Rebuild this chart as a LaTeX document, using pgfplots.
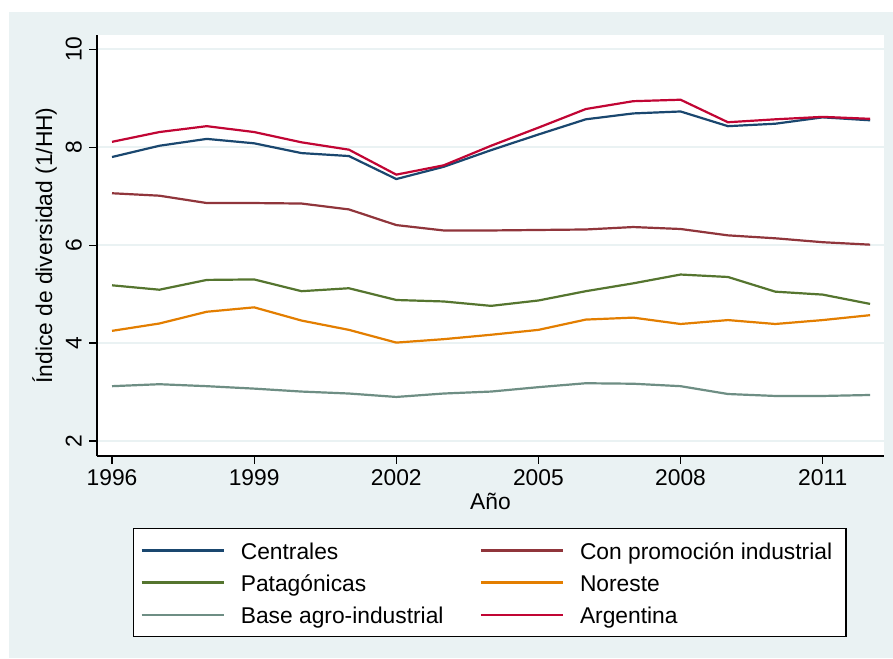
\documentclass[border=0pt]{standalone}
\usepackage{fontspec}
\setmainfont{Liberation Sans}
\usepackage{pgfplots}
\pgfplotsset{compat=1.18}
\definecolor{bgc}{HTML}{EAF2F3}
\definecolor{snavy}{HTML}{1A476F}
\definecolor{smaroon}{HTML}{90353B}
\definecolor{sgreen}{HTML}{55752F}
\definecolor{sorange}{HTML}{E37E00}
\definecolor{steal}{HTML}{6E8E84}
\definecolor{scran}{HTML}{C10534}
\newcommand\f{\fontsize{11.4}{13.5}\selectfont}
\begin{document}
\begin{tikzpicture}[font=\f]
\fill[white] (-48.5pt,-101pt) rectangle (398pt,228pt);
\fill[bgc] (-44pt,-101pt) rectangle (398pt,222pt);
\begin{axis}[
  at={(0pt,0pt)}, anchor=south west,
  scale only axis, width=393.5pt, height=210.5pt,
  xmin=1995.683, xmax=2012.294, ymin=1.694, ymax=10.292,
  axis background/.style={fill=white},
  axis x line*=bottom, axis y line*=left,
  axis line style={line width=0.6pt, -},
  xtick={1996,1999,2002,2005,2008,2011},
  ytick={2,4,6,8,10},
  tick align=outside, major tick length=3.8pt,
  tick style={line width=0.6pt, black},
  ymajorgrids, grid style={bgc, line width=0.8pt},
  /pgf/number format/assume math mode=true,
  /pgf/number format/set thousands separator={},
  xticklabel style={anchor=base, inner sep=0pt, font=\f},
  yticklabel style={rotate=90, anchor=base, inner sep=0pt, font=\f},
  xticklabel shift=10.7pt,
  yticklabel shift=3.85pt,
  xlabel={Año},
  xlabel style={at={(axis description cs:0.5,-0.12660)}, anchor=base, inner sep=0pt},
  ylabel={Índice de diversidad (1/HH)},
  ylabel style={at={(axis description cs:-0.05718,0.5)}, anchor=base, inner sep=0pt},
  legend columns=2,
  legend cell align=left,
  legend style={at={(0.04574,-0.1710)}, anchor=north west, draw=black, line width=0.6pt,
    fill=white, inner xsep=3.5pt, inner ysep=3pt, column sep=8pt, row sep=0pt,
    nodes={inner sep=0pt, text height=12.5pt, text depth=3.5pt, font=\f}},
  legend image code/.code={\draw[#1, line width=1.1pt] (0pt,0pt) -- (41pt,0pt);},
  every axis plot/.append style={line width=1.1pt},
]
\addplot[snavy] coordinates {(1996,7.80)(1997,8.03)(1998,8.17)(1999,8.08)(2000,7.88)(2001,7.82)(2002,7.35)(2003,7.60)(2004,7.94)(2005,8.26)(2006,8.57)(2007,8.69)(2008,8.73)(2009,8.43)(2010,8.48)(2011,8.61)(2012,8.55)};
\addlegendentry{\makebox[111.5pt][l]{Centrales}}
\addplot[smaroon] coordinates {(1996,7.06)(1997,7.01)(1998,6.86)(1999,6.86)(2000,6.85)(2001,6.73)(2002,6.41)(2003,6.30)(2004,6.30)(2005,6.31)(2006,6.32)(2007,6.37)(2008,6.33)(2009,6.20)(2010,6.14)(2011,6.06)(2012,6.01)};
\addlegendentry{\makebox[129.5pt][l]{Con promoción industrial}}
\addplot[sgreen] coordinates {(1996,5.18)(1997,5.09)(1998,5.29)(1999,5.30)(2000,5.06)(2001,5.12)(2002,4.88)(2003,4.85)(2004,4.76)(2005,4.87)(2006,5.06)(2007,5.22)(2008,5.40)(2009,5.35)(2010,5.05)(2011,4.99)(2012,4.80)};
\addlegendentry{Patagónicas}
\addplot[sorange] coordinates {(1996,4.25)(1997,4.40)(1998,4.64)(1999,4.73)(2000,4.46)(2001,4.27)(2002,4.01)(2003,4.08)(2004,4.17)(2005,4.27)(2006,4.48)(2007,4.52)(2008,4.39)(2009,4.47)(2010,4.39)(2011,4.47)(2012,4.57)};
\addlegendentry{Noreste}
\addplot[steal] coordinates {(1996,3.12)(1997,3.16)(1998,3.12)(1999,3.07)(2000,3.01)(2001,2.97)(2002,2.90)(2003,2.97)(2004,3.01)(2005,3.10)(2006,3.18)(2007,3.17)(2008,3.12)(2009,2.96)(2010,2.92)(2011,2.92)(2012,2.94)};
\addlegendentry{Base agro-industrial}
\addplot[scran] coordinates {(1996,8.11)(1997,8.31)(1998,8.43)(1999,8.31)(2000,8.10)(2001,7.95)(2002,7.44)(2003,7.63)(2004,8.03)(2005,8.40)(2006,8.78)(2007,8.94)(2008,8.97)(2009,8.51)(2010,8.57)(2011,8.62)(2012,8.58)};
\addlegendentry{Argentina}
\end{axis}
\end{tikzpicture}
\end{document}
